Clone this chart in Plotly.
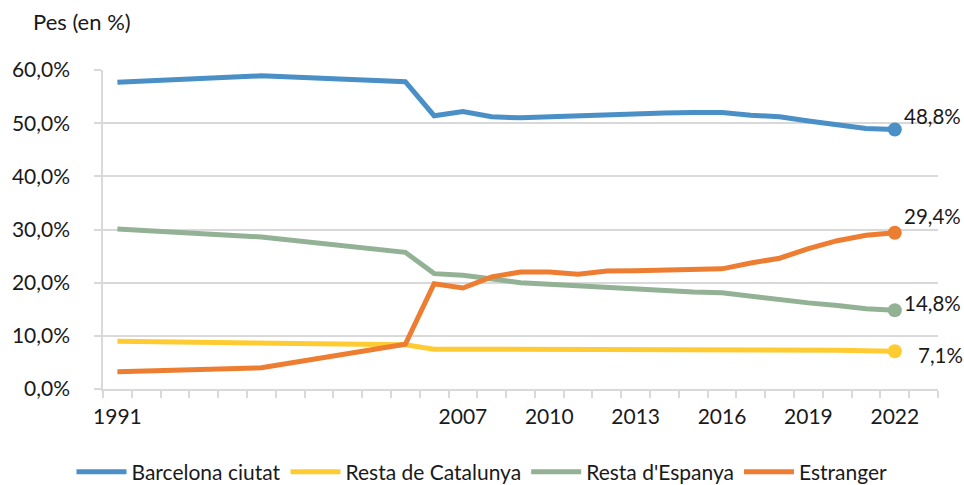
import plotly.graph_objects as go

# Category slots of the original (Excel-style) category axis; blank slots carry no data
categories = ["1991", "", "", "", "", "1996", "", "", "", "", "2001", "2006",
              "2007", "2008", "2009", "2010", "2011", "2012", "2013", "2014",
              "2015", "2016", "2017", "2018", "2019", "2020", "2021", "2022", ""]

N = None
barcelona = [57.7, N, N, N, N, 58.9, N, N, N, N, 57.8, 51.4,
             52.2, 51.2, 51.0, 51.2, 51.5, 51.5, 51.8, 51.9,
             52.0, 52.0, 51.5, 51.2, 50.4, 49.6, 49.0, 48.8, N]
catalunya = [9.0, N, N, N, N, 8.6, N, N, N, N, 8.3, 7.5,
             7.5, 7.3, 7.3, 7.3, 7.4, 7.4, 7.4, 7.4,
             7.4, 7.4, 7.4, 7.4, 7.35, 7.3, 7.2, 7.1, N]
espanya = [30.1, N, N, N, N, 28.6, N, N, N, N, 25.7, 21.7,
           21.4, 20.6, 20.0, 19.7, 19.4, 19.0, 18.7, 18.4,
           18.25, 18.1, 17.4, 16.9, 16.2, 15.7, 15.1, 14.8, N]
estranger = [3.25, N, N, N, N, 4.0, N, N, N, N, 8.4, 19.8,
             19.0, 21.1, 22.0, 22.0, 21.6, 22.2, 22.25, 22.3,
             22.4, 22.6, 23.7, 24.6, 26.4, 27.9, 28.9, 29.4, N]

series_names = ["Barcelona ciutat", "Resta de Catalunya", "Resta d'Espanya", "Estranger"]
series_values = [barcelona, catalunya, espanya, estranger]
colors = ["#4A90C6", "#FFCB33", "#93B194", "#ED7D31"]
label_offsets = [(7, -14), (21, 4), (7, -7), (7, -17)]  # screen px (right, down)

FONT = "Lato"
TXT = "#1a1a1a"
GRID = "#D9D9D9"
FS = 21

x = list(range(len(categories)))
label_every = 3
tickvals = list(range(0, len(categories), label_every))
ticktext = [categories[i] for i in tickvals]
boundaries = [i - 0.5 for i in range(len(categories) + 1)]

fig = go.Figure()
annotations = []
for name, vals, col, (dx, dy) in zip(series_names, series_values, colors, label_offsets):
    fig.add_trace(go.Scatter(
        x=x, y=vals, name=name, mode="lines",
        line=dict(color=col, width=5), connectgaps=True,
        hoverinfo="skip"))
    last = max(i for i, v in enumerate(vals) if v is not None)
    fig.add_trace(go.Scatter(
        x=[x[last]], y=[vals[last]], mode="markers", showlegend=False,
        marker=dict(color=col, size=14), hoverinfo="skip"))
    annotations.append(dict(
        x=x[last], y=vals[last], xref="x", yref="y",
        text=f"{vals[last]:.1f}".replace(".", ",") + "%",
        showarrow=False, xanchor="left", yanchor="middle",
        xshift=dx, yshift=-dy,
        font=dict(family=FONT, size=20.5, color=TXT)))

fig.update_layout(
    width=964, height=485,
    margin=dict(l=93, r=26, t=70, b=96),
    paper_bgcolor="white", plot_bgcolor="white",
    separators=",.",
    font=dict(family=FONT, size=FS, color=TXT),
    title=dict(text="Pes (en %)", xref="container", yref="container",
               x=33 / 964, y=1 - 22 / 485, xanchor="left", yanchor="middle",
               font=dict(family=FONT, size=22, color=TXT)),
    showlegend=True,
    legend=dict(orientation="h", xref="container", yref="container",
                x=0.5, y=1 - 472 / 485, xanchor="center", yanchor="middle",
                font=dict(family=FONT, size=FS, color=TXT),
                itemwidth=50, tracegroupgap=0),
    annotations=annotations,
)
fig.update_xaxes(
    type="linear", range=[-0.5, len(categories) - 0.5],
    tickmode="array", tickvals=tickvals, ticktext=ticktext, ticks="",
    showgrid=False, zeroline=False,
    showline=True, linecolor=GRID, linewidth=1.5,
    tickfont=dict(family=FONT, size=FS, color=TXT),
    ticklabelstandoff=8,
    minor=dict(tickmode="array", tickvals=boundaries, ticks="outside",
               ticklen=7, tickcolor=GRID, tickwidth=1.5, showgrid=False),
)
fig.update_yaxes(
    range=[0, 60], dtick=10, tick0=0, tickformat=".1f", ticksuffix="%",
    showgrid=True, gridcolor=GRID, gridwidth=1.5, zeroline=False,
    showline=True, linecolor=GRID, linewidth=1.5,
    ticks="outside", ticklen=7, tickcolor=GRID, tickwidth=1.5,
    tickfont=dict(family=FONT, size=FS, color=TXT),
    ticklabelstandoff=20,
)

fig.write_html(
    "out.html",
    config={"displayModeBar": False},
    post_script="document.body.style.margin='0';document.body.style.padding='0';"
                "document.body.style.overflow='hidden';",
)
